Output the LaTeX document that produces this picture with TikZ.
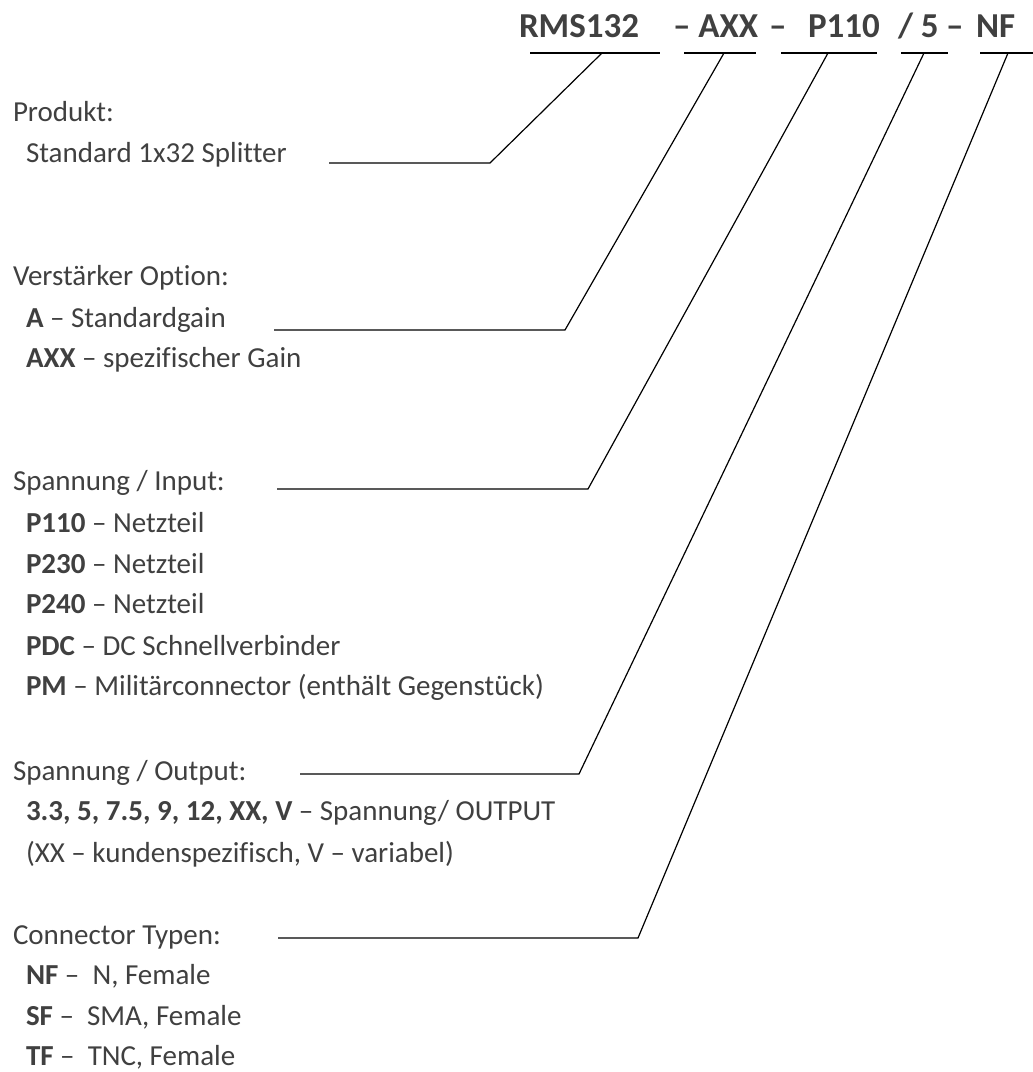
\documentclass[tikz,border=0pt]{standalone}
\usepackage{fontspec}
\setmainfont{Carlito}[Ligatures={NoCommon}]
\definecolor{txt}{HTML}{404040}
\begin{document}
\begin{tikzpicture}[x=1pt,y=-1pt,
  lbl/.style={anchor=base west,inner sep=0pt,outer sep=0pt,text=txt,font=\fontsize{29}{35}\selectfont},
  ttl/.style={anchor=base west,inner sep=0pt,outer sep=0pt,text=txt,font=\fontsize{35}{40}\selectfont\bfseries},
  ln/.style={draw=black,line width=1.2pt,line join=miter}]
\useasboundingbox (0,0) rectangle (1033,1072);
% title
\node[ttl] (t1) at (519,37) {RMS132};
\node[ttl] (t2) at (673,37) {– AXX};
\node[ttl] (t3) at (769,37) {–};
\node[ttl] (t4) at (808,37) {P110};
\node[ttl] (t5) at (898,37) {/ 5};
\node[ttl] (t6) at (946,37) {–};
\node[ttl] (t7) at (976,37) {NF};
% underlines
\coordinate (u1a) at (530,53); \coordinate (u1b) at (660,53); \coordinate (u1) at (602,53);
\coordinate (u2a) at (684,53); \coordinate (u2b) at (756,53); \coordinate (u2) at (724,53);
\coordinate (u3a) at (781,53); \coordinate (u3b) at (877,53); \coordinate (u3) at (828,53);
\coordinate (u4a) at (901,53); \coordinate (u4b) at (948,53); \coordinate (u4) at (924,53);
\coordinate (u5a) at (980,53); \coordinate (u5b) at (1033,53); \coordinate (u5) at (1008,53);
\foreach \i in {1,...,5}{\draw[ln] (u\i a) -- (u\i b);}
% labels
\node[lbl] (h1) at (13,121) {Produkt:};
\node[lbl] (i11) at (26,162) {Standard 1x32 Splitter};
\node[lbl] (h2) at (13,285) {Verstärker Option:};
\node[lbl] (i21) at (26,327) {\textbf{A} – Standardgain};
\node[lbl] (i22) at (26,367) {\textbf{AXX} – spezifischer Gain};
\node[lbl] (h3) at (13,490) {Spannung / Input:};
\node[lbl] (i31) at (26,532) {\textbf{P110} – Netzteil};
\node[lbl] (i32) at (26,573) {\textbf{P230} – Netzteil};
\node[lbl] (i33) at (26,613) {\textbf{P240} – Netzteil};
\node[lbl] (i34) at (26,655) {\textbf{PDC} – DC Schnellverbinder};
\node[lbl] (i35) at (26,695) {\textbf{PM} – Militärconnector (enthält Gegenstück)};
\node[lbl] (h4) at (13,780) {Spannung / Output:};
\node[lbl] (i41) at (26,820) {\textbf{3.3, 5, 7.5, 9, 12, XX, V} – Spannung/ OUTPUT};
\node[lbl] (i42) at (26,862) {(XX – kundenspezifisch, V – variabel)};
\node[lbl] (h5) at (13,944) {Connector Typen:};
\node[lbl] (i51) at (26,984) {\textbf{NF} – \ N, Female};
\node[lbl] (i52) at (26,1025) {\textbf{SF} – \ SMA, Female};
\node[lbl] (i53) at (26,1065) {\textbf{TF} – \ TNC, Female};
% leader lines
\coordinate (s1) at (329,163); \coordinate (k1) at (490,163);
\coordinate (s2) at (274,330); \coordinate (k2) at (565,330);
\coordinate (s3) at (277,489); \coordinate (k3) at (588,489);
\coordinate (s4) at (300,774); \coordinate (k4) at (579,774);
\coordinate (s5) at (278,938); \coordinate (k5) at (638,938);
\foreach \i in {1,...,5}{\draw[ln] (s\i) -- (k\i) -- (u\i);}
\end{tikzpicture}
\end{document}
